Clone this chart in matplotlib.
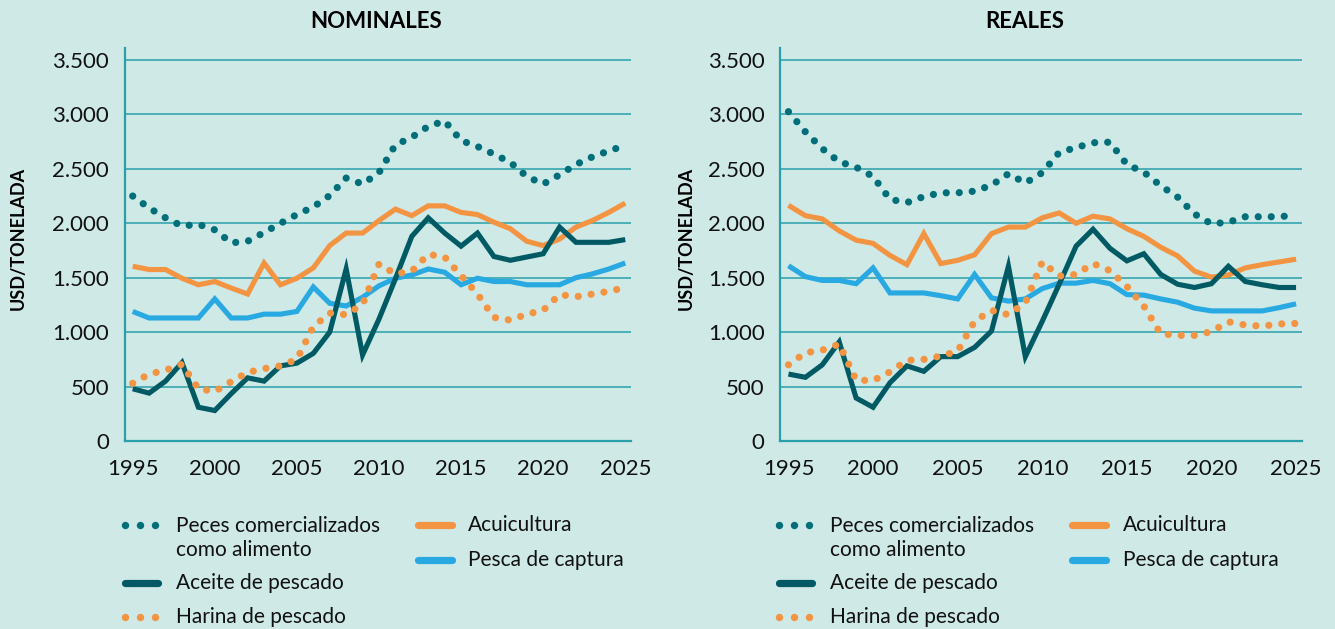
import numpy as np
import matplotlib
matplotlib.use("Agg")
import matplotlib.pyplot as plt
from matplotlib.lines import Line2D

plt.rcParams['font.family'] = ['Lato', 'DejaVu Sans']

# ---- data (USD/tonelada) ----
years = np.arange(1995, 2026)

# nominal prices
peces_nom = [2250, 2140, 2050, 1975, 1990, 1940, 1820, 1835, 1915, 2000, 2080, 2150, 2255, 2415, 2360, 2465,
             2720, 2790, 2890, 2940, 2760, 2705, 2635, 2560, 2430, 2360, 2445, 2540, 2610, 2665, 2715]
aceite_nom = [480, 440, 550, 720, 310, 280, 435, 580, 550, 690, 715, 805, 1000, 1580, 790, 1120,
              1490, 1880, 2050, 1910, 1790, 1910, 1695, 1660, 1690, 1720, 1965, 1825, 1825, 1825, 1850]
harina_nom = [530, 615, 650, 705, 480, 455, 545, 630, 665, 690, 750, 1050, 1175, 1160, 1255, 1625,
              1535, 1560, 1715, 1690, 1520, 1350, 1135, 1110, 1165, 1200, 1345, 1325, 1350, 1375, 1410]
acui_nom = [1605, 1575, 1575, 1495, 1435, 1465, 1405, 1350, 1635, 1435, 1495, 1590, 1795, 1910, 1910, 2025,
            2130, 2070, 2160, 2160, 2100, 2080, 2010, 1950, 1835, 1795, 1855, 1965, 2025, 2100, 2185]
captura_nom = [1190, 1130, 1130, 1130, 1130, 1305, 1130, 1130, 1165, 1165, 1190, 1415, 1265, 1240, 1320, 1425,
               1495, 1525, 1580, 1550, 1435, 1495, 1465, 1465, 1435, 1435, 1435, 1500, 1535, 1580, 1635]

# real prices
peces_real = [3025, 2840, 2685, 2565, 2515, 2430, 2220, 2190, 2245, 2280, 2280, 2295, 2350, 2455, 2370, 2465,
              2650, 2695, 2740, 2745, 2540, 2470, 2345, 2240, 2085, 1995, 2010, 2060, 2060, 2060, 2075]
aceite_real = [615, 585, 700, 910, 395, 310, 535, 690, 640, 775, 775, 860, 1010, 1605, 775, 1100,
               1440, 1790, 1945, 1770, 1655, 1720, 1530, 1440, 1410, 1445, 1605, 1465, 1435, 1410, 1410]
harina_real = [700, 810, 835, 890, 560, 555, 635, 740, 750, 780, 825, 1100, 1200, 1160, 1270, 1645,
               1515, 1530, 1630, 1565, 1420, 1240, 985, 970, 970, 1005, 1095, 1065, 1055, 1075, 1080]
acui_real = [2165, 2070, 2040, 1930, 1845, 1815, 1705, 1620, 1905, 1630, 1660, 1710, 1905, 1965, 1965, 2050,
             2095, 2000, 2065, 2040, 1950, 1880, 1780, 1700, 1560, 1505, 1525, 1590, 1620, 1645, 1670]
captura_real = [1610, 1510, 1475, 1475, 1445, 1590, 1360, 1360, 1360, 1335, 1305, 1530, 1315, 1285, 1305, 1400,
                1450, 1450, 1475, 1445, 1345, 1340, 1305, 1275, 1220, 1195, 1195, 1195, 1195, 1225, 1260]

yticks = [0, 500, 1000, 1500, 2000, 2500, 3000, 3500]
ytick_labels = ['0', '500', '1.000', '1.500', '2.000', '2.500', '3.000', '3.500']
xticks = [1995, 2000, 2005, 2010, 2015, 2020, 2025]

labels = ['Peces comercializados\ncomo alimento', 'Aceite de pescado', 'Harina de pescado',
          'Acuicultura', 'Pesca de captura']

# ---- styling ----
BG = '#cfe9e7'
GRID = '#2a9fa9'
C_PECES = '#006f79'
C_ACEITE = '#005a64'
C_ORANGE = '#f39442'
C_BLUE = '#29a9e1'
TXT = '#111111'

W, H = 1335, 629
fig = plt.figure(figsize=(W / 100, H / 100), dpi=100, facecolor=BG)

dot_style = dict(lw=5.2, linestyle=(0, (0.001, 1.8)), dash_capstyle='round')
solid_style = dict(lw=3.7, solid_joinstyle='miter', solid_capstyle='butt')


def px_axes(x0, x1, y0, y1):
    # axes from pixel box (top-left origin)
    return fig.add_axes([x0 / W, 1 - y1 / H, (x1 - x0) / W, (y1 - y0) / H])


def draw_panel(ax, peces, aceite, harina, acui, captura):
    ax.set_facecolor(BG)
    ax.plot(years, captura, color=C_BLUE, **solid_style)
    ax.plot(years, acui, color=C_ORANGE, **solid_style)
    ax.plot(years, aceite, color=C_ACEITE, **solid_style)
    ax.plot(years, harina, color=C_ORANGE, **dot_style)
    ax.plot(years, peces, color=C_PECES, **dot_style)

    ax.set_xlim(1994.5, 2025.35)
    ax.set_ylim(0, 3610)
    ax.set_yticks(yticks)
    ax.set_yticklabels(ytick_labels)
    ax.set_xticks(xticks)
    ax.grid(axis='y', color=GRID, lw=1.1)
    ax.set_axisbelow(True)
    for s in ['top', 'right']:
        ax.spines[s].set_visible(False)
    for s in ['left', 'bottom']:
        ax.spines[s].set_color(GRID)
        ax.spines[s].set_linewidth(1.6)
    ax.tick_params(axis='y', length=0, pad=11, labelsize=16, colors=TXT)
    ax.tick_params(axis='x', length=0, pad=13, labelsize=16, colors=TXT)


def draw_legend(x_dots, x_text, x2_line, x2_text):
    rows = [525, 583, 617]
    fs = 15
    # column 1
    fig.add_artist(Line2D([x / W for x in x_dots], [1 - rows[0] / H] * 3, ls='none', marker='o',
                          ms=5.3, color=C_PECES, mec='none'))
    fig.add_artist(Line2D([x_dots[0] / W, (x_dots[2] + 3) / W], [1 - rows[1] / H] * 2,
                          lw=5.2, color=C_ACEITE, solid_capstyle='round'))
    fig.add_artist(Line2D([x / W for x in x_dots], [1 - rows[2] / H] * 3, ls='none', marker='o',
                          ms=5.3, color=C_ORANGE, mec='none'))
    fig.text(x_text / W, 1 - 538 / H, labels[0], fontsize=fs, va='center', ha='left',
             color=TXT, linespacing=1.25)
    fig.text(x_text / W, 1 - rows[1] / H, labels[1], fontsize=fs, va='center', ha='left', color=TXT)
    fig.text(x_text / W, 1 - rows[2] / H, labels[2], fontsize=fs, va='center', ha='left', color=TXT)
    # column 2
    fig.add_artist(Line2D([x2_line[0] / W, x2_line[1] / W], [1 - 525 / H] * 2,
                          lw=5.2, color=C_ORANGE, solid_capstyle='round'))
    fig.add_artist(Line2D([x2_line[0] / W, x2_line[1] / W], [1 - 560 / H] * 2,
                          lw=5.2, color=C_BLUE, solid_capstyle='round'))
    fig.text(x2_text / W, 1 - 525 / H, labels[3], fontsize=fs, va='center', ha='left', color=TXT)
    fig.text(x2_text / W, 1 - 560 / H, labels[4], fontsize=fs, va='center', ha='left', color=TXT)


ax1 = px_axes(124.5, 631, 48, 441)
draw_panel(ax1, peces_nom, aceite_nom, harina_nom, acui_nom, captura_nom)
ax2 = px_axes(780, 1302, 48, 441)
draw_panel(ax2, peces_real, aceite_real, harina_real, acui_real, captura_real)

fig.text(376 / W, 1 - 21.5 / H, 'NOMINALES', fontsize=16, fontweight='bold', ha='center', va='center')
fig.text(1025 / W, 1 - 21.5 / H, 'REALES', fontsize=16, fontweight='bold', ha='center', va='center')
for xl in (18, 686):
    fig.text(xl / W, 1 - 238 / H, 'USD/TONELADA', fontsize=13, fontweight='bold',
             rotation=90, ha='center', va='center')

draw_legend([125, 140, 155], 176, (418, 452), 468)
draw_legend([779, 794, 809], 830, (1072, 1106), 1123)

fig.savefig('out.png', dpi=100, facecolor=BG)
